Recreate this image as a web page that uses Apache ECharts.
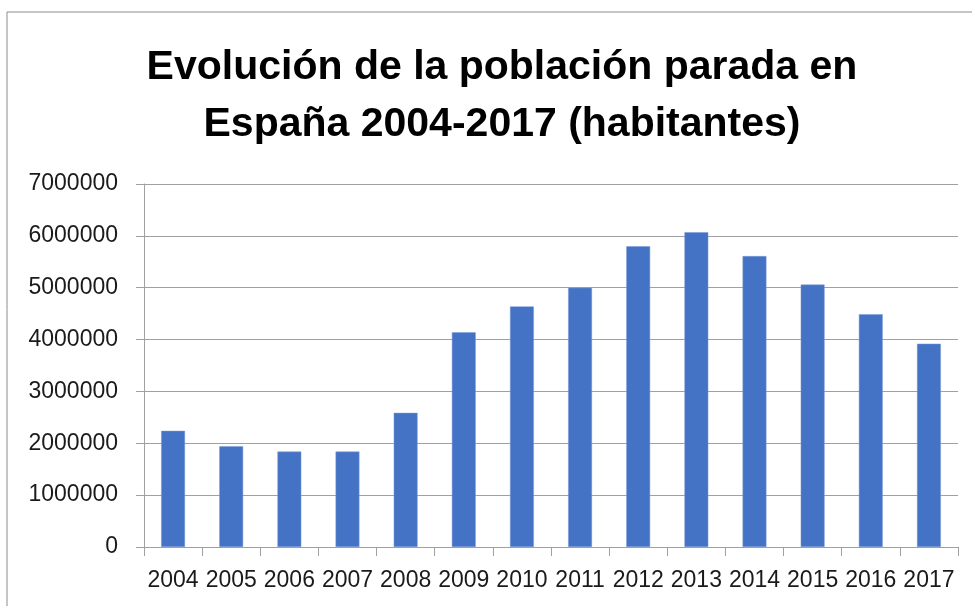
<!DOCTYPE html>
<html>
<head>
<meta charset="utf-8">
<script src="https://cdn.jsdelivr.net/npm/echarts@6/dist/echarts.min.js"></script>
<style>html,body{margin:0;padding:0;background:#fff}#c{width:972px;height:606px}</style>
</head>
<body>
<div id="c"></div>
<script>
const titleText = 'Evolución de la población parada en\nEspaña 2004-2017 (habitantes)';
const categories = ['2004','2005','2006','2007','2008','2009','2010','2011','2012','2013','2014','2015','2016','2017'];
const values = [2240000,1944000,1840000,1840000,2587000,4139000,4640000,5000000,5800000,6070000,5610000,5060000,4490000,3920000];
const yTicks = {min:0, max:7000000, interval:1000000};

const chart = echarts.init(document.getElementById('c'), null, {renderer:'canvas'});
chart.setOption({
  backgroundColor:'#fff',
  animation:false,
  graphic:[{type:'rect', shape:{x:7,y:12,width:1000,height:700}, style:{fill:'none', stroke:'#8c8c8c', lineWidth:1}, silent:true}],
  title:{text:titleText, left:497, top:34, textAlign:'center',
    textStyle:{fontFamily:'Liberation Sans', fontWeight:'bold', fontSize:41, lineHeight:57, color:'#000'}},
  grid:{left:144, right:14, top:184, bottom:59, containLabel:false},
  xAxis:{type:'category', data:categories,
    axisLine:{lineStyle:{color:'#a0a0a0', width:1}},
    axisTick:{show:true, length:9, alignWithLabel:false, lineStyle:{color:'#a0a0a0'}},
    axisLabel:{fontFamily:'Liberation Sans', fontSize:23, color:'#1a1a1a', margin:22, interval:0}},
  yAxis:{type:'value', min:yTicks.min, max:yTicks.max, interval:yTicks.interval,
    axisLine:{show:true, lineStyle:{color:'#a0a0a0', width:1}},
    axisTick:{show:true, length:8, lineStyle:{color:'#a0a0a0'}},
    splitLine:{show:true, lineStyle:{color:'#a0a0a0', width:1}},
    axisLabel:{fontFamily:'Liberation Sans', fontSize:23, color:'#1a1a1a', margin:26, formatter:function(v){return String(v);}}},
  series:[{type:'bar', data:values, barWidth:'41%',
    itemStyle:{color:'#4472C4', borderColor:'#7a9ad6', borderWidth:0.5}}]
});
</script>
</body>
</html>
